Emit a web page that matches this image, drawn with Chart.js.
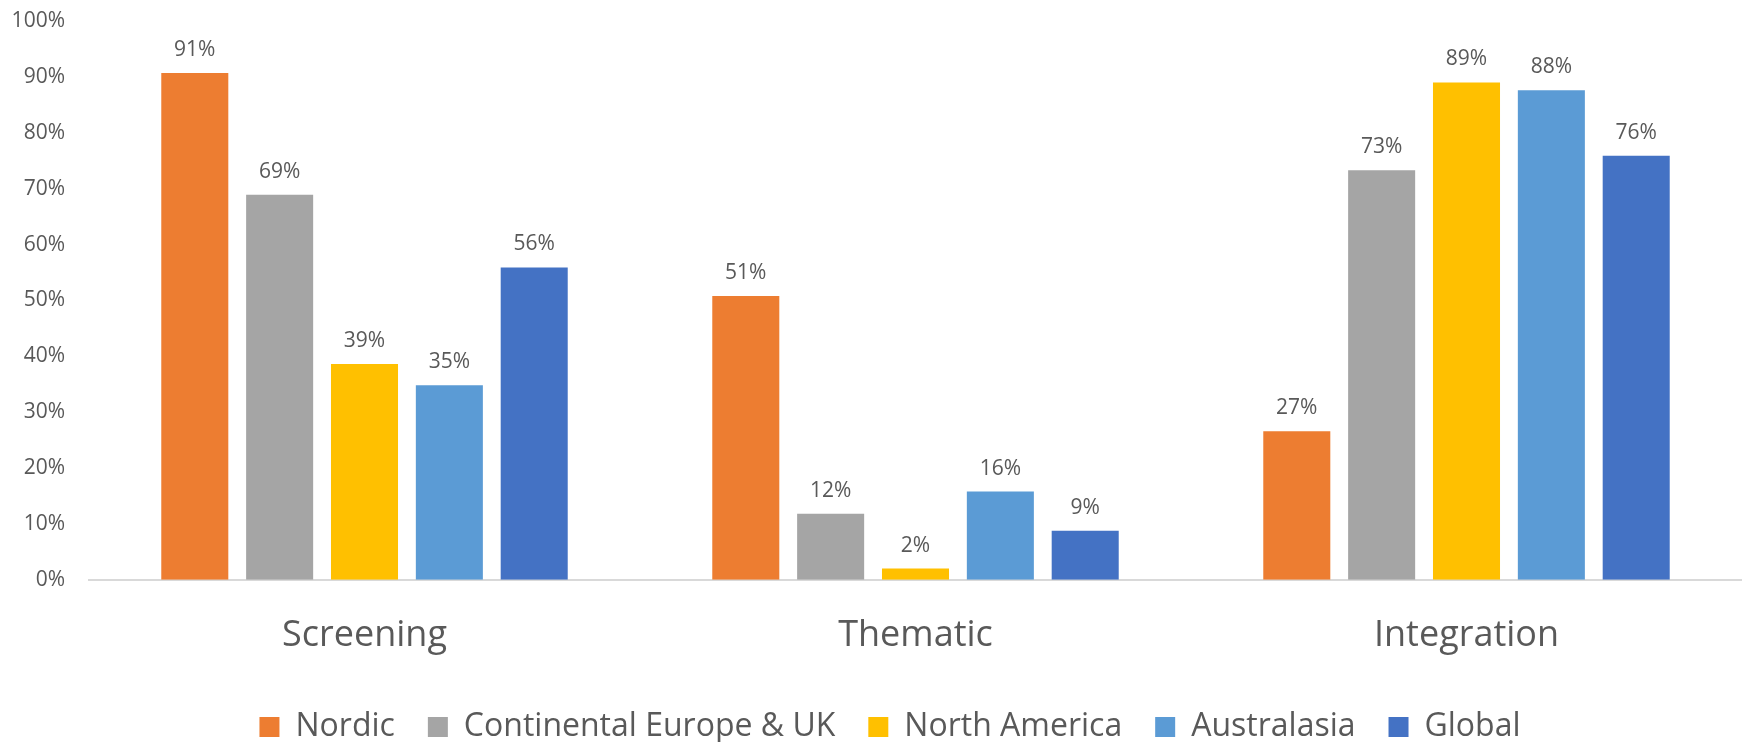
<!DOCTYPE html>
<html>
<head>
<meta charset="utf-8">
<script src="https://cdn.jsdelivr.net/npm/chart.js@4.4.1/dist/chart.umd.min.js"></script>
<style>
  html, body { margin: 0; padding: 0; background: #fff; }
  #wrap { width: 1742px; height: 742px; position: relative; }
</style>
</head>
<body>
<div id="wrap"><canvas id="chart"></canvas></div>
<script>
// Data
const categories = ['Screening', 'Thematic', 'Integration'];
const regions = ['Nordic', 'Continental Europe & UK', 'North America', 'Australasia', 'Global'];
const nordic = [90.7, 50.8, 26.6];
const continental = [68.9, 11.8, 73.3];
const northAmerica = [38.6, 2.0, 89.0];
const australasia = [34.8, 15.8, 87.6];
const global = [55.9, 8.8, 75.9];
const yTicks = [0, 10, 20, 30, 40, 50, 60, 70, 80, 90, 100];

const colors = ['#ED7D31', '#A5A5A5', '#FFC000', '#5B9BD5', '#4472C4'];
const series = [nordic, continental, northAmerica, australasia, global];
const textColor = '#595959';
const font = "'Open Sans', 'Noto Sans', sans-serif";

/** Draws the rounded percentage above each bar */
const barValueLabels = {
  id: 'barValueLabels',
  afterDatasetsDraw(chart) {
    const ctx = chart.ctx;
    ctx.save();
    ctx.font = `21px ${font}`;
    ctx.fillStyle = textColor;
    ctx.textAlign = 'center';
    ctx.textBaseline = 'alphabetic';
    chart.data.datasets.forEach((ds, i) => {
      chart.getDatasetMeta(i).data.forEach((bar, j) => {
        ctx.fillText(Math.round(ds.data[j]) + '%', bar.x, bar.y - 17);
      });
    });
    ctx.restore();
  },
};

/** Trims the legend box so it sits lower, and nudges it right a little */
const legendTrim = {
  id: 'legendTrim',
  beforeInit(chart) {
    const fit = chart.legend.fit;
    chart.legend.fit = function () {
      fit.call(this);
      this.height -= 11;
    };
  },
  afterLayout(chart) {
    chart.legend.left += 17;
    chart.legend.right += 17;
  },
};

new Chart(document.getElementById('chart'), {
  type: 'bar',
  data: {
    labels: categories,
    datasets: regions.map((name, i) => ({
      label: name,
      data: series[i],
      backgroundColor: colors[i],
      borderWidth: 0,
      categoryPercentage: 0.77,
      barPercentage: 0.79,
    })),
  },
  options: {
    responsive: true,
    maintainAspectRatio: false,
    animation: false,
    layout: { padding: { top: 21, right: -4, left: 0, bottom: 0 } },
    plugins: {
      tooltip: { enabled: false },
      legend: {
        position: 'bottom',
        labels: {
          font: { size: 32, family: font },
          color: textColor,
          boxWidth: 20,
          boxHeight: 20,
          padding: 33,
        },
      },
    },
    scales: {
      x: {
        afterFit: (s) => { s.height -= 13; },
        grid: { display: false, drawTicks: false },
        border: { display: true, color: '#D9D9D9', width: 2 },
        ticks: { font: { size: 36, family: font }, color: textColor, padding: 34 },
      },
      y: {
        min: 0,
        max: 100,
        afterFit: (s) => { s.width = 89; s.paddingTop = 0; s.paddingBottom = 0; },
        afterBuildTicks: (s) => { s.ticks = yTicks.map(v => ({ value: v })); },
        grid: { display: false, drawTicks: false },
        border: { display: false },
        ticks: {
          font: { size: 21, family: font },
          color: textColor,
          padding: 24,
          callback: (v) => v + '%',
        },
      },
    },
  },
  plugins: [barValueLabels, legendTrim],
});
</script>
</body>
</html>
